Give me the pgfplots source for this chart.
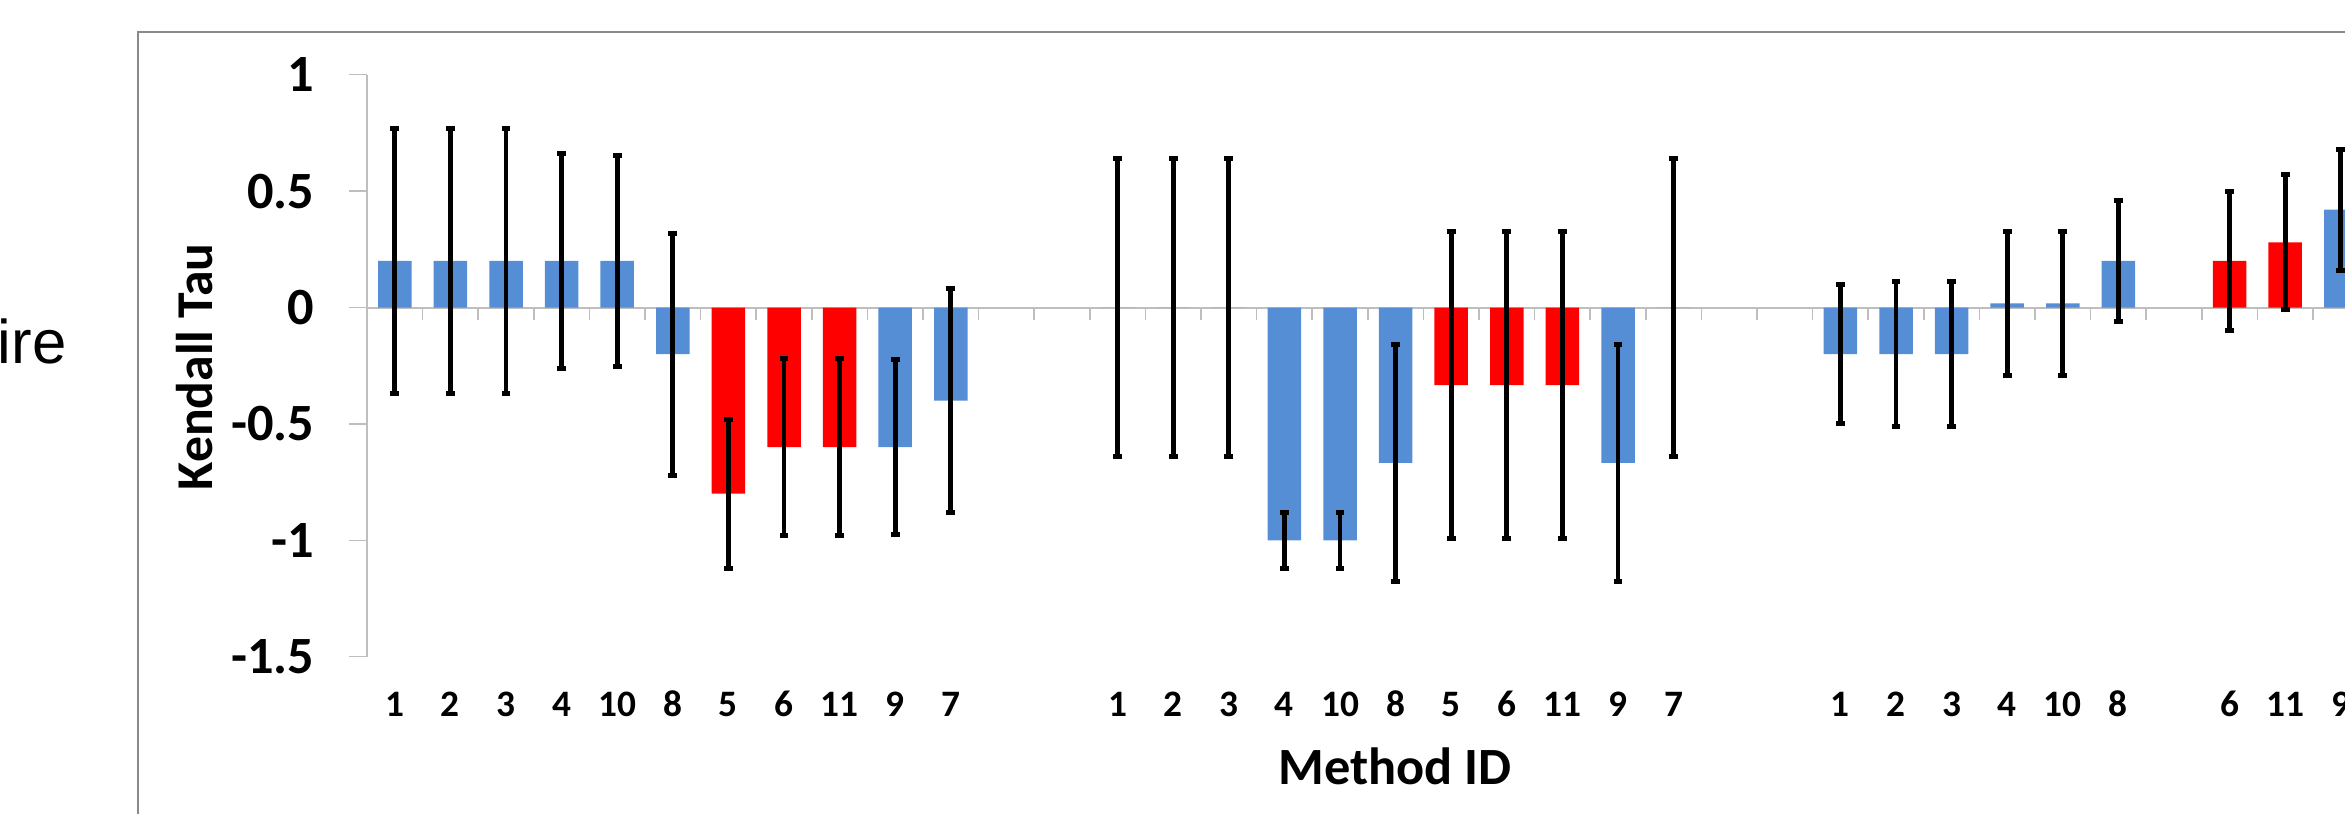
\documentclass[border=0pt]{standalone}
\usepackage{pgfplots}
\pgfplotsset{compat=1.18}
\usepackage{pgfplotstable}
\usepackage{fontspec}
\setmainfont{Carlito}
\newfontfamily\arialfont{Liberation Sans}
\definecolor{barblue}{RGB}{85,142,213}
\definecolor{barred}{RGB}{255,0,0}
\definecolor{axisgray}{RGB}{190,190,190}
\definecolor{framegray}{RGB}{137,137,137}

\pgfplotstableread{
x y e
0 0.2 0.57
1 0.2 0.57
2 0.2 0.57
3 0.2 0.46
4 0.2 0.455
5 -0.2 0.52
9 -0.6 0.375
10 -0.4 0.48
13 0 0.64
14 0 0.64
15 0 0.64
16 -1 0.12
17 -1 0.12
18 -0.667 0.51
22 -0.667 0.51
23 0 0.64
26 -0.2 0.30
27 -0.2 0.31
28 -0.2 0.31
29 0.018 0.31
30 0.018 0.31
31 0.2 0.26
35 0.42 0.26
}\bluedata

\pgfplotstableread{
x y e
6 -0.8 0.32
7 -0.6 0.38
8 -0.6 0.38
19 -0.333 0.66
20 -0.333 0.66
21 -0.333 0.66
33 0.2 0.30
34 0.28 0.29
}\reddata

\begin{document}
\begin{tikzpicture}
\useasboundingbox (0,0) rectangle (703.5pt,243.9pt);
\clip (0,0) rectangle (703.5pt,243.9pt);
\draw[framegray, line width=0.6pt] (41.31pt,-10pt) -- (41.31pt,234.3pt) -- (720pt,234.3pt);
\node[anchor=base west, inner sep=0pt, font=\arialfont\fontsize{18.5}{21}\selectfont] at (-0.8pt,134.9pt) {ire};
\begin{axis}[
  at={(110.1pt,46.89pt)}, anchor=south west,
  scale only axis, width=593.4pt, height=174.6pt,
  xmin=-0.5, xmax=35.076, ymin=-1.5, ymax=1,
  axis x line*=bottom, axis y line*=left,
  x axis line style={draw=none},
  y axis line style={axisgray, line width=0.45pt},
  ytick={-1.5,-1,-0.5,0,0.5,1},
  yticklabels={-1.5,-1,-0.5,0,0.5,1},
  ytick pos=left,
  tick align=outside,
  major tick length=5.4pt,
  ytick style={axisgray, line width=0.45pt},
  xtick style={draw=none},
  xtick={0,1,2,3,4,5,6,7,8,9,10,13,14,15,16,17,18,19,20,21,22,23,26,27,28,29,30,31,33,34,35},
  xticklabels={1,2,3,4,10,8,5,6,11,9,7,1,2,3,4,10,8,5,6,11,9,7,1,2,3,4,10,8,6,11,9},
  xticklabel style={font=\bfseries\fontsize{11.2}{13}\selectfont, anchor=base, inner sep=0pt, yshift=-12.5pt},
  yticklabel style={font=\bfseries\fontsize{15.7}{18}\selectfont, anchor=east, inner sep=0pt, xshift=-10.2pt},
  xlabel={Method ID},
  xlabel style={at={(axis description cs:0.5197,-0.2204)}, anchor=base, inner sep=0pt, font=\bfseries\fontsize{15.7}{18}\selectfont},
  ylabel={Kendall Tau},
  ylabel style={at={(axis description cs:-0.0779,0.4978)}, anchor=base, inner sep=0pt, font=\bfseries\fontsize{15.5}{18}\selectfont},
  ybar, bar width=10.05pt,
]
\draw[axisgray, line width=0.6pt] (axis cs:-0.5,0) -- (axis cs:35.076,0);
\pgfplotsinvokeforeach{-0.5,0.5,...,35.5}{
  \draw[axisgray, line width=0.45pt] (axis cs:#1,0) -- ++(0pt,-3.8pt);
}
\addplot[bar shift=0pt, fill=barblue, draw=none,
  error bars/.cd, y dir=both, y explicit,
  error bar style={black, line width=1.4pt},
  error mark options={rotate=90, black, line width=1.5pt, mark size=1.3pt}]
  table[x=x, y=y, y error=e] {\bluedata};
\addplot[bar shift=0pt, fill=barred, draw=none,
  error bars/.cd, y dir=both, y explicit,
  error bar style={black, line width=1.4pt},
  error mark options={rotate=90, black, line width=1.5pt, mark size=1.3pt}]
  table[x=x, y=y, y error=e] {\reddata};
\end{axis}
\end{tikzpicture}
\end{document}
